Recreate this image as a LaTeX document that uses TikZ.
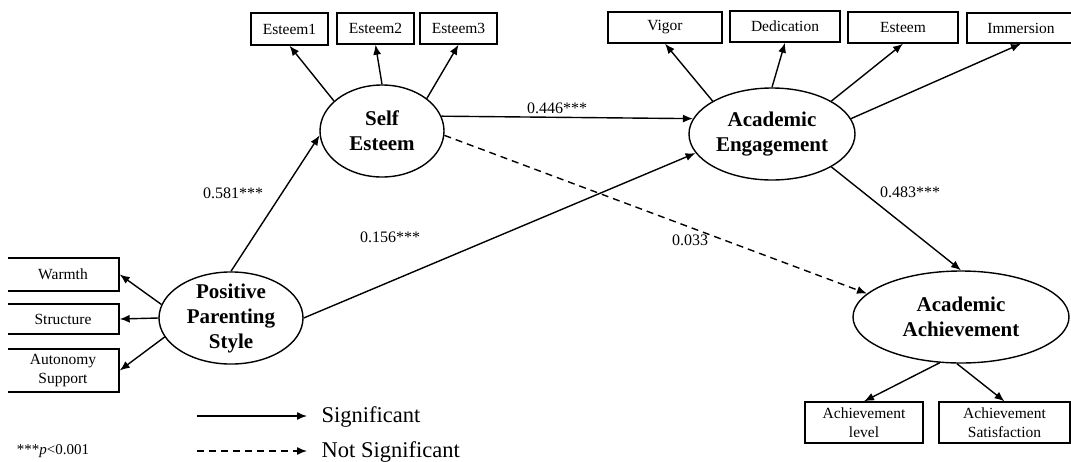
\documentclass[tikz,border=0pt]{standalone}
\usepackage{fontspec}
\setmainfont{Liberation Serif}
\usetikzlibrary{shapes.geometric,arrows.meta}
\begin{document}
\begin{tikzpicture}[>={Latex[length=10pt,width=8pt]}, x=1pt, y=-1pt, line width=1.4pt,
    obs/.style={draw, rectangle, inner sep=0pt, align=center, font=\fontsize{15.5}{19}\selectfont},
    lat/.style={draw, ellipse, inner sep=0pt, minimum height=92pt, align=center, font=\fontsize{21}{25}\selectfont\bfseries},
    coef/.style={font=\fontsize{16}{18}\selectfont},
    nsig/.style={dash pattern=on 7pt off 5pt},
    legend/.style={anchor=west, inner sep=0pt, font=\fontsize{22.5}{26}\selectfont}]
    \useasboundingbox (0,0) rectangle (1071,461);
    \clip (8,0) rectangle (1071,461);
    % latent variables
    \node[lat, minimum width=124pt] (se) at (382,131) {Self\\Esteem};
    \node[lat, minimum width=166pt] (ae) at (772,134) {Academic\\Engagement};
    \node[lat, minimum width=216pt] (aa) at (961,317) {Academic\\Achievement};
    \node[lat, minimum width=144pt, inner ysep=-2pt] (pps) at (231,318) {Positive\\Parenting\\Style};
    % indicators
    \node[obs, minimum width=77pt, minimum height=32pt] (e1) at (289.5,29) {Esteem1};
    \node[obs, minimum width=77pt, minimum height=31pt] (e2) at (375.5,28.5) {Esteem2};
    \node[obs, minimum width=77pt, minimum height=31pt] (e3) at (458.5,28.5) {Esteem3};
    \node[obs, minimum width=114pt, minimum height=31pt] (vig) at (665,27.5) {Vigor};
    \node[obs, minimum width=110pt, minimum height=31pt] (ded) at (785,26.5) {Dedication};
    \node[obs, minimum width=110pt, minimum height=31pt] (est) at (903,27.5) {Esteem};
    \node[obs, minimum width=108pt, minimum height=30pt] (imm) at (1021,28) {Immersion};
    \node[obs, minimum width=112pt, minimum height=33pt] (war) at (63,274.5) {Warmth};
    \node[obs, minimum width=112pt, minimum height=30pt] (str) at (63,319) {Structure};
    \node[obs, minimum width=112pt, minimum height=43pt] (aut) at (63,370.5) {Autonomy\\Support};
    \node[obs, minimum width=118pt, minimum height=41pt] (al) at (864,422.5) {Achievement\\level};
    \node[obs, minimum width=131pt, minimum height=41pt] (as) at (1004.5,422.5) {Achievement\\Satisfaction};
    % measurement paths
    \draw[->] (se.148) -- (e1.south);
    \draw[->] (se.north) -- (e2.south);
    \draw[->] (se.36) -- (e3.south);
    \draw[->] (ae.151) -- (vig.south);
    \draw[->] (ae.north) -- (ded.south);
    \draw[->] (ae.29) -- (est.south);
    \draw[->] (ae.11) -- (imm.south);
    \draw[->] (pps.169) -- (war.east);
    \draw[->] (pps.west) -- (str.east);
    \draw[->] (pps.196) -- (aut.east);
    \draw[->] (aa.245) -- (al.north);
    \draw[->] (aa.265) -- (as.north);
    % structural paths
    \draw[->] (pps.north) -- (se.184);
    \draw[->] (pps.east) -- (ae.194);
    \draw[->] (se.14) -- (ae.169);
    \draw[->] (ae.331) -- (aa.north);
    \draw[->, nsig] (se.-4) -- (aa.166);
    \node[coef] (c1) at (233,193) {0.581***};
    \node[coef] (c2) at (390,237) {0.156***};
    \node[coef] (c3) at (557,108) {0.446***};
    \node[coef] (c4) at (910,192) {0.483***};
    \node[coef] (c5) at (690,240) {0.033};
    % legend
    \coordinate (l1a) at (197,416);
    \coordinate (l1b) at (307,416);
    \coordinate (l2a) at (197,451);
    \coordinate (l2b) at (307,451);
    \draw[->] (l1a) -- (l1b);
    \draw[->, nsig] (l2a) -- (l2b);
    \node[legend] (sig) at (321,417) {Significant};
    \node[legend] (nsg) at (321,452) {Not Significant};
    \node[coef, font=\fontsize{15}{17}\selectfont] (pval) at (53,451) {***\textit{p}<0.001};
\end{tikzpicture}
\end{document}
